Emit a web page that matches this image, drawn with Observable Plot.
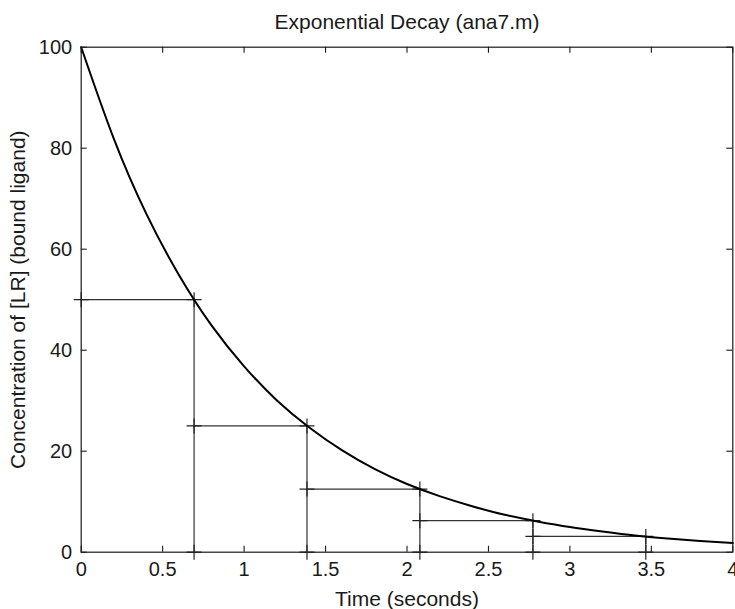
<!DOCTYPE html>
<html><head><meta charset="utf-8">
<script src="https://cdn.jsdelivr.net/npm/d3@7"></script>
<script src="https://cdn.jsdelivr.net/npm/@observablehq/plot@0.6"></script>
<style>body{margin:0;background:#fff} svg{display:block}</style>
</head><body><div id="chart"></div>
<script>
const titleText = "Exponential Decay (ana7.m)";
const xLabel = "Time (seconds)";
const yLabel = "Concentration of [LR] (bound ligand)";
// decay curve
const curveTime = [0,0.2,0.4,0.6,0.8,1.0,1.2,1.4,1.6,1.8,2.0,2.2,2.4,2.6,2.8,3.0,3.2,3.4,3.6,3.8,4.0];
const curveConc = [100,81.9,67.0,54.9,44.9,36.8,30.1,24.7,20.2,16.5,13.5,11.1,9.1,7.4,6.1,5.0,4.1,3.3,2.7,2.2,1.8];
// half-life staircase
const halfTimes = [0,0.693,1.386,2.079,2.773,3.466];
const halfLevels = [50,25,12.5,6.25,3.125];
const xTicks = [0,0.5,1,1.5,2,2.5,3,3.5,4];
const yTicks = [0,20,40,60,80,100];

const W = 735, H = 609;
const mL = 80.7, mR = 2.7, mT = 46.7, mB = 57.3;
const frameW = W - mL - mR, frameH = H - mT - mB;
const tickLen = 6;
const ink = "#1a1a1a";

const curve = curveTime.map((t, i) => ({t, c: curveConc[i]}));
const hSegs = halfLevels.map((c, i) => ({x1: halfTimes[i], x2: halfTimes[i + 1], y: c}));
const vSegs = halfLevels.map((c, i) => ({x: halfTimes[i + 1], y1: 0, y2: c}));
const markers = hSegs.flatMap(s => [{x: s.x1, y: s.y}, {x: s.x2, y: s.y}])
  .concat(vSegs.map(s => ({x: s.x, y: 0})));

const thinPlus = {
  draw(ctx, size) {
    const r = Math.sqrt(size / Math.PI);
    ctx.moveTo(-r, 0); ctx.lineTo(r, 0);
    ctx.moveTo(0, -r); ctx.lineTo(0, r);
  }
};

const font = "'Liberation Sans', Arial, Helvetica, sans-serif";

const chart = Plot.plot({
  width: W, height: H,
  marginLeft: mL, marginRight: mR, marginTop: mT, marginBottom: mB,
  style: {fontFamily: font, fontSize: "20px", color: ink, background: "#fff", overflow: "visible"},
  x: {domain: [0, 4], nice: false},
  y: {domain: [0, 100], nice: false},
  marks: [
    Plot.ruleY(hSegs, {y: "y", x1: "x1", x2: "x2", stroke: "#333", strokeWidth: 1.2}),
    Plot.ruleX(vSegs, {x: "x", y1: "y1", y2: "y2", stroke: "#333", strokeWidth: 1.2}),
    Plot.dot(markers, {x: "x", y: "y", symbol: thinPlus, r: 7.5, fill: "none", stroke: "#222", strokeWidth: 1.2}),
    Plot.line(curve, {x: "t", y: "c", curve: "natural", stroke: "#000", strokeWidth: 2}),
    Plot.frame({stroke: ink, strokeWidth: 1.2}),
    Plot.tickX(xTicks, {x: d => d, insetTop: frameH - tickLen, stroke: ink, strokeWidth: 1.1}),
    Plot.tickX(xTicks, {x: d => d, insetBottom: frameH - tickLen, stroke: ink, strokeWidth: 1.1}),
    Plot.tickY(yTicks, {y: d => d, insetRight: frameW - tickLen, stroke: ink, strokeWidth: 1.1}),
    Plot.tickY(yTicks, {y: d => d, insetLeft: frameW - tickLen, stroke: ink, strokeWidth: 1.1}),
    Plot.axisX(xTicks, {tickSize: 0, tickPadding: 10, fontSize: 20, fill: ink, tickFormat: d => String(d), label: null}),
    Plot.axisY(yTicks, {tickSize: 0, tickPadding: 9, fontSize: 20, fill: ink, tickFormat: d => String(d), label: null}),
    Plot.text([titleText], {text: d => d, frameAnchor: "top", lineAnchor: "bottom", dy: -18.4, fontSize: 21, fill: ink}),
    Plot.text([xLabel], {text: d => d, frameAnchor: "bottom", lineAnchor: "bottom", dy: 53.3, fontSize: 21, fill: ink}),
    Plot.text([yLabel], {text: d => d, frameAnchor: "left", textAnchor: "middle", lineAnchor: "bottom", rotate: -90, dx: -55.7, fontSize: 21, fill: ink})
  ]
});
document.getElementById("chart").appendChild(chart);
</script>
</body></html>
